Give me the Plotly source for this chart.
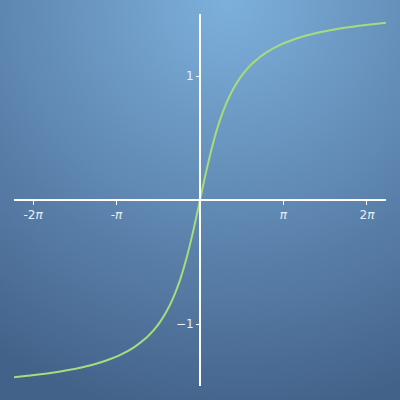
import base64
import plotly.graph_objects as go

# values
x_vals = [-7.0, -6.5, -6.0, -5.5, -5.0, -4.5, -4.0, -3.5, -3.0, -2.5, -2.0, -1.75, -1.5,
          -1.25, -1.0, -0.75, -0.5, -0.25, 0.0, 0.25, 0.5, 0.75, 1.0, 1.25, 1.5, 1.75,
          2.0, 2.5, 3.0, 3.5, 4.0, 4.5, 5.0, 5.5, 6.0, 6.5, 7.0]
y_vals = [-1.429, -1.418, -1.406, -1.391, -1.373, -1.352, -1.326, -1.292, -1.249, -1.190,
          -1.107, -1.052, -0.983, -0.896, -0.785, -0.644, -0.464, -0.245, 0.0, 0.245,
          0.464, 0.644, 0.785, 0.896, 0.983, 1.052, 1.107, 1.190, 1.249, 1.292, 1.326,
          1.352, 1.373, 1.391, 1.406, 1.418, 1.429]

x_tick_vals = [-6.283185, -3.141593, 3.141593, 6.283185]
x_tick_text = ["-2<i>π</i>", "-<i>π</i>", "<i>π</i>", "2<i>π</i>"]
y_tick_vals = [-1, 1]
y_tick_text = ["−1", "1"]

svg = """<svg xmlns='http://www.w3.org/2000/svg' width='400' height='400'>
<defs><radialGradient id='g' cx='0.57' cy='0' r='1.05' gradientUnits='objectBoundingBox'>
<stop offset='0' stop-color='#7db0dc'/>
<stop offset='1' stop-color='#43628a'/>
</radialGradient></defs>
<rect width='400' height='400' fill='url(#g)'/></svg>"""
bg_uri = "data:image/svg+xml;base64," + base64.b64encode(svg.encode()).decode()

fig = go.Figure()
fig.add_trace(go.Scatter(x=x_vals, y=y_vals, mode="lines",
                         line=dict(color="#a6dc7c", width=2, shape="spline"),
                         hoverinfo="skip"))

font = dict(family="DejaVu Sans", size=12, color="#e8eef6")
fig.update_layout(
    width=400, height=400,
    margin=dict(l=14, r=14, t=14, b=14),
    paper_bgcolor="#5a84b0", plot_bgcolor="rgba(0,0,0,0)",
    showlegend=False,
    images=[dict(source=bg_uri, xref="paper", yref="paper", x=-14/372, y=1+14/372,
                 sizex=400/372, sizey=400/372, sizing="stretch", layer="below",
                 xanchor="left", yanchor="top")],
    xaxis=dict(range=[-7, 7], showgrid=False, zeroline=False, showline=True,
               linecolor="white", linewidth=2, anchor="free", position=0.5,
               tickvals=x_tick_vals, ticktext=x_tick_text, ticks="outside",
               ticklen=4, tickcolor="white", tickwidth=1, tickfont=font),
    yaxis=dict(range=[-1.5, 1.5], showgrid=False, zeroline=False, showline=True,
               linecolor="white", linewidth=2, anchor="free", position=0.5,
               tickvals=y_tick_vals, ticktext=y_tick_text, ticks="outside",
               ticklen=3, tickcolor="white", tickwidth=1, tickfont=font),
)
fig.write_html("out.html", config={"displayModeBar": False},
               post_script="document.body.style.margin='0';document.body.style.overflow='hidden';")
